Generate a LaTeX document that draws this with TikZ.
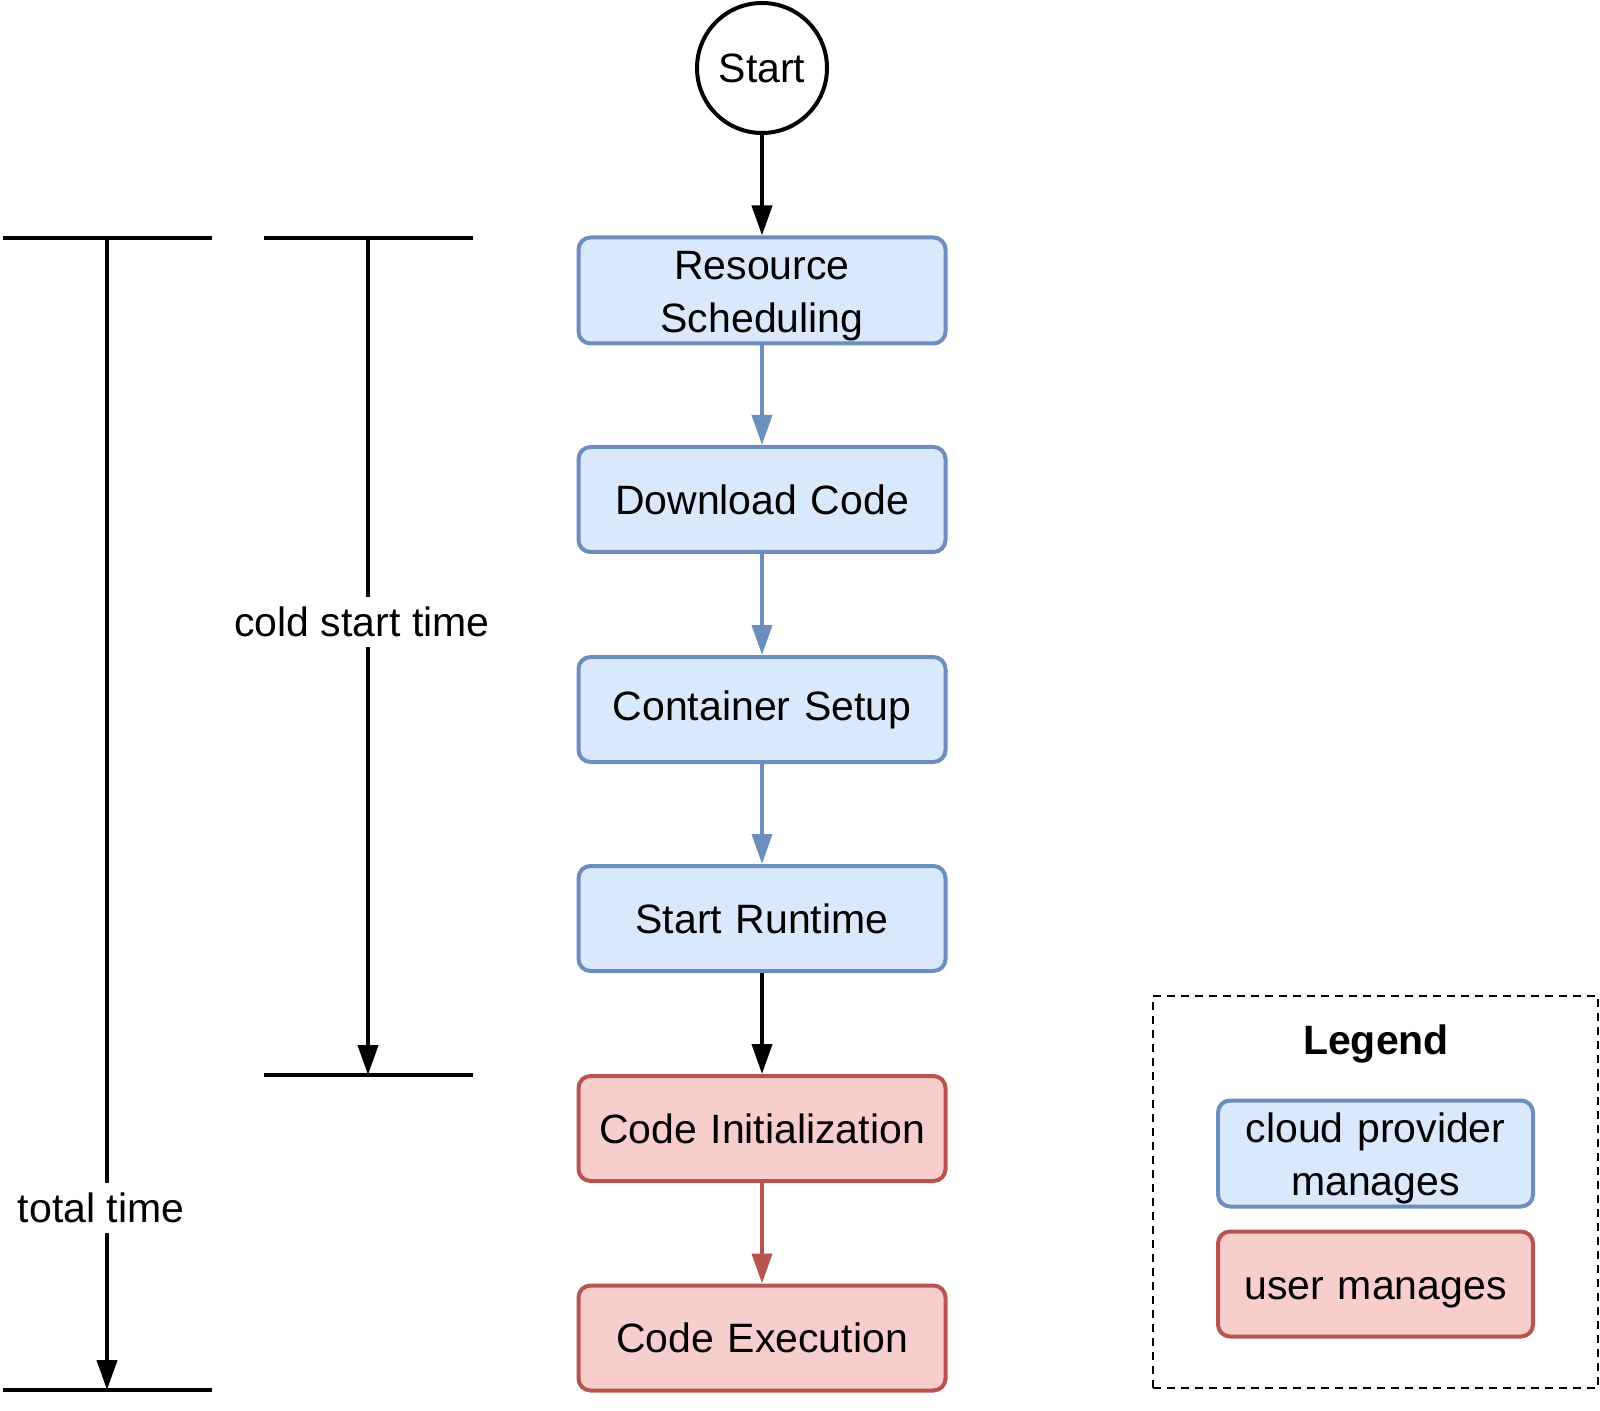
\documentclass[tikz,border=0pt]{standalone}
\usepackage{fontspec}
\setmainfont{Liberation Sans}
\usetikzlibrary{arrows.meta,positioning}
\definecolor{bluefill}{HTML}{DAE8FC}
\definecolor{bluedraw}{HTML}{6C8EBF}
\definecolor{redfill}{HTML}{F8CECC}
\definecolor{reddraw}{HTML}{B85450}
\newcommand{\mylower}[2]{\raisebox{#1}[\height][\depth]{#2}}
\newcommand{\mytwolines}[3]{\mylower{#3}{\begin{tabular}{@{}c@{}}#1\\#2\end{tabular}}}
\tikzset{
  txt/.style={font=\fontsize{20.5pt}{26.5pt}\selectfont, align=center},
  procbox/.style={txt, rounded corners=6pt, line width=2pt, minimum width=183.5pt, minimum height=52.5pt, inner sep=0pt, text width=180pt},
  bluebox/.style={procbox, draw=bluedraw, fill=bluefill},
  redbox/.style={procbox, draw=reddraw, fill=redfill},
  flow/.style={line width=2pt, -{Triangle[length=15pt,width=10pt]}},
  dim/.style={line width=2pt},
  dimarrow/.style={line width=2pt, -{Triangle[length=15pt,width=10pt]}},
  dimlabel/.style={txt, fill=white, inner xsep=1pt, inner ysep=0pt, minimum height=25pt},
}
\begin{document}
\begin{tikzpicture}[x=0.5pt,y=-0.5pt]
\useasboundingbox (0,0) rectangle (1600,1411);
% flow
\node[txt, circle, draw, line width=2pt, minimum size=65pt, inner sep=0pt] (start) at (762,68) {Start};
\node[bluebox] (rs) at (762,290.5) {\mytwolines{Resource}{Scheduling}{-2.6pt}};
\node[bluebox] (dc) at (762,499.5) {Download Code};
\node[bluebox] (cs) at (762,709.5) {Container Setup};
\node[bluebox] (sr) at (762,918.5) {Start Runtime};
\node[redbox] (ci) at (762,1128.5) {Code Initialization};
\node[redbox] (ce) at (762,1338) {Code Execution};
\draw[flow] (start) -- (rs);
\draw[flow, bluedraw] (rs) -- (dc);
\draw[flow, bluedraw] (dc) -- (cs);
\draw[flow, bluedraw] (cs) -- (sr);
\draw[flow] (sr) -- (ci);
\draw[flow, reddraw] (ci) -- (ce);
% total time
\coordinate (tt1) at (3,238);
\coordinate (tt2) at (212,238);
\coordinate (ttt) at (107,238);
\coordinate (ttb) at (107,1390);
\coordinate (tb1) at (3,1390);
\coordinate (tb2) at (212,1390);
\draw[dim] (tt1) -- (tt2);
\draw[dim] (tb1) -- (tb2);
\draw[dimarrow] (ttt) -- (ttb);
\node[dimlabel] (ttl) at (101,1208) {total time};
% cold start time
\coordinate (ct1) at (264,238);
\coordinate (ct2) at (473,238);
\coordinate (ctt) at (368,238);
\coordinate (ctb) at (368,1075);
\coordinate (cb1) at (264,1075);
\coordinate (cb2) at (473,1075);
\draw[dim] (ct1) -- (ct2);
\draw[dim] (cb1) -- (cb2);
\draw[dimarrow] (ctt) -- (ctb);
\node[dimlabel] (ctl) at (362,622) {cold start time};
% legend
\node[draw, dashed, dash pattern=on 4pt off 3pt, line width=1pt, minimum width=222.5pt, minimum height=196pt, inner sep=0pt] (legend) at (1375.5,1192) {};
\node[txt, font=\fontsize{20.5pt}{25pt}\selectfont\bfseries] (legtitle) at (1376,1044) {Legend};
\node[bluebox, minimum width=157.5pt, text width=155pt] (lblue) at (1375.5,1153.5) {\mytwolines{cloud provider}{manages}{-2.5pt}};
\node[redbox, minimum width=157.5pt, text width=155pt] (lred) at (1375.5,1284) {\mylower{-4.5pt}{user manages}};
\end{tikzpicture}
\end{document}
